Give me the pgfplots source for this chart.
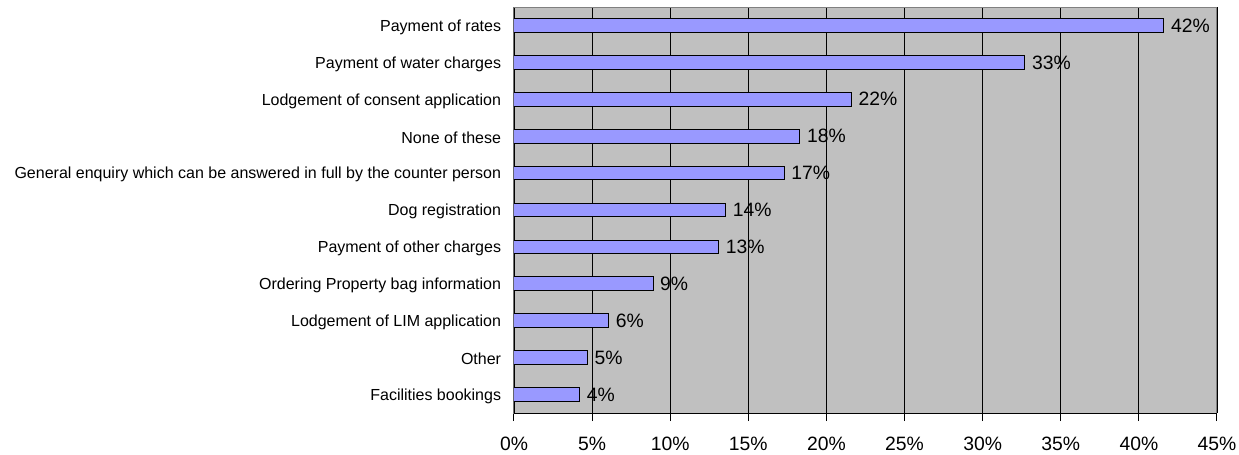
\documentclass[border=0pt]{standalone}
\usepackage{fontspec}
\setmainfont{Liberation Sans}
\usepackage{pgfplots}
\pgfplotsset{compat=1.18}
\definecolor{barblue}{HTML}{9999FF}
\definecolor{plotgray}{HTML}{C0C0C0}
\definecolor{framegray}{HTML}{808080}
\begin{document}
\begin{tikzpicture}
\begin{axis}[
  scale only axis,
  width=527.25pt, height=304.5pt,
  xbar, bar width=10.3pt,
  xmin=0, xmax=45,
  ymin=-0.5, ymax=10.5,
  y dir=reverse,
  axis background/.style={fill=plotgray},
  axis line style={framegray, line width=0.75pt},
  xtick={0,5,10,15,20,25,30,35,40,45},
  xticklabels={0\%,5\%,10\%,15\%,20\%,25\%,30\%,35\%,40\%,45\%},
  ytick={0,1,2,3,4,5,6,7,8,9,10},
  yticklabels={Payment of rates,Payment of water charges,Lodgement of consent application,None of these,General enquiry which can be answered in full by the counter person,Dog registration,Payment of other charges,Ordering Property bag information,Lodgement of LIM application,Other,Facilities bookings},
  xmajorgrids,
  major grid style={black, line width=0.6pt},
  x tick style={black, line width=0.75pt},
  xtick pos=bottom, tick align=outside,
  major tick length=6pt,
  y tick style={draw=none},
  xticklabel style={font=\fontsize{14.5pt}{16pt}\selectfont, inner sep=0pt, anchor=north, yshift=-12pt},
  yticklabel style={font=\fontsize{12pt}{14pt}\selectfont, inner sep=0pt, anchor=east, xshift=-3.5pt, yshift=-1.2pt},
  point meta=explicit symbolic,
  nodes near coords={\pgfplotspointmeta\%},
  nodes near coords style={font=\fontsize{14.5pt}{16pt}\selectfont, anchor=west, inner sep=0pt, xshift=5pt},
]
\addplot[fill=barblue, draw=black, line width=0.75pt] table[x=v, y=i, meta=l] {
i v l
0 41.6 42
1 32.7 33
2 21.6 22
3 18.3 18
4 17.3 17
5 13.55 14
6 13.1 13
7 8.9 9
8 6.06 6
9 4.7 5
10 4.2 4
};
\draw[black, line width=0.75pt] (rel axis cs:0,0) -- (rel axis cs:0,1);
\draw[black, line width=0.75pt] (rel axis cs:0,0) -- (rel axis cs:1,0);
\end{axis}
\pgfresetboundingbox
\path[use as bounding box] (-385.5pt,-30.75pt) rectangle (543.75pt,309.75pt);
\end{tikzpicture}
\end{document}
